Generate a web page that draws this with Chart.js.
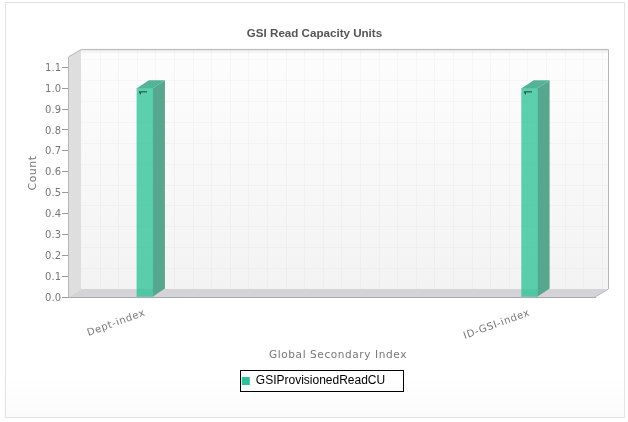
<!DOCTYPE html>
<html>
<head>
<meta charset="utf-8">
<script src="https://cdn.jsdelivr.net/npm/chart.js@4"></script>
<style>
  html, body { margin: 0; padding: 0; background: #fff; overflow: hidden; }
  #frame { position: absolute; left: 5px; top: 2px; width: 618px; height: 414px; border: 1px solid #e3e3e3;
           background: linear-gradient(to bottom, #fff 90%, #fbfbfb 100%); }
  #gsiChart { position: absolute; left: 0; top: 0; }
</style>
</head>
<body>
<div id="frame"></div>
<canvas id="gsiChart" width="628" height="422"></canvas>
<script>
var categories = ['Dept-index', 'ID-GSI-index'];
var readCapacity = [1, 1];
var seriesName = 'GSIProvisionedReadCU';

var depthX = 13, depthY = 8; // offset of the back wall

function poly(ctx, pts, fill) {
    ctx.beginPath();
    pts.forEach(function (p, i) { i ? ctx.lineTo(p[0], p[1]) : ctx.moveTo(p[0], p[1]); });
    ctx.closePath();
    if (fill) { ctx.fillStyle = fill; ctx.fill(); }
}

// run a scale's text drawing with some letter spacing and a small nudge
function spaced(scale, method, spacing, shiftX, shiftY) {
    var orig = scale[method];
    scale[method] = function (area) {
        var ctx = scale.ctx;
        ctx.save();
        ctx.letterSpacing = spacing;
        ctx.translate(shiftX, shiftY);
        orig.call(scale, area);
        ctx.restore();
    };
}

var box3d = {
    id: 'box3d',
    afterLayout: function (chart) {
        // title and legend are centred on the whole canvas, not the plot
        var lg = chart.legend, tb = chart.titleBlock;
        lg.left += 16; lg.right += 16;
        lg.top = 370; lg.bottom = 392;
        tb.left += 17; tb.right += 17;
        spaced(chart.scales.x, 'drawLabels', '0.6px', 0, 0);
        spaced(chart.scales.x, 'drawTitle', '0.6px', 6.5, 0);
        spaced(chart.scales.y, 'drawLabels', '0px', 0, 1);
        spaced(chart.scales.y, 'drawTitle', '0.5px', 0, -4);
    },
    beforeDraw: function (chart) {
        var ctx = chart.ctx, a = chart.chartArea;
        var l = a.left, r = a.right, t = a.top, b = a.bottom;
        ctx.save();
        var wall = ctx.createLinearGradient(0, t - depthY, 0, b - depthY);
        wall.addColorStop(0, '#fdfdfd');
        wall.addColorStop(1, '#f3f3f3');
        poly(ctx, [[l + depthX, t - depthY], [r + depthX, t - depthY], [r + depthX, b - depthY], [l + depthX, b - depthY]], wall);

        // faint grid on the back wall
        ctx.strokeStyle = 'rgba(0,0,0,0.025)';
        ctx.lineWidth = 1;
        ctx.beginPath();
        chart.scales.y.ticks.forEach(function (tk) {
            var y = Math.round(chart.scales.y.getPixelForValue(tk.value) - depthY) + 0.5;
            ctx.moveTo(l + depthX, y); ctx.lineTo(r + depthX, y);
        });
        for (var x = l + depthX + 18.6; x < r + depthX; x += 18.6) {
            ctx.moveTo(Math.round(x) + 0.5, t - depthY); ctx.lineTo(Math.round(x) + 0.5, b - depthY);
        }
        ctx.stroke();

        // soft shadow under the top edge
        var sh = ctx.createLinearGradient(0, t - depthY, 0, t - depthY + 5);
        sh.addColorStop(0, 'rgba(0,0,0,0.10)');
        sh.addColorStop(1, 'rgba(0,0,0,0)');
        poly(ctx, [[l + depthX, t - depthY], [r + depthX, t - depthY], [r + depthX, t - depthY + 5], [l + depthX, t - depthY + 5]], sh);

        poly(ctx, [[l, t], [l + depthX, t - depthY], [l + depthX, b - depthY], [l, b]], '#dedede');
        poly(ctx, [[l, b], [l + depthX, b - depthY], [r + depthX, b - depthY], [r, b]], '#d4d4d8');

        // outline of the box
        ctx.strokeStyle = '#b8b8b8';
        ctx.beginPath();
        ctx.moveTo(l + 0.5, b);
        ctx.lineTo(l + 0.5, t);
        ctx.lineTo(l + depthX + 0.5, t - depthY + 0.5);
        ctx.lineTo(r + depthX + 0.5, t - depthY + 0.5);
        ctx.lineTo(r + depthX + 0.5, b - depthY);
        ctx.lineTo(r, b);
        ctx.stroke();
        ctx.restore();
    },
    beforeDatasetsDraw: function (chart) {
        var ctx = chart.ctx;
        ctx.save();
        chart.getDatasetMeta(0).data.forEach(function (bar) {
            var x0 = bar.x - bar.width / 2, x1 = bar.x + bar.width / 2, d = depthX - 1;
            poly(ctx, [[x1, bar.y], [x1 + d, bar.y - depthY], [x1 + d, bar.base - depthY], [x1, bar.base]], '#56a78e');
            poly(ctx, [[x0, bar.y], [x0 + d, bar.y - depthY], [x1 + d, bar.y - depthY], [x1, bar.y]], '#54b296');
        });
        ctx.restore();
    },
    afterDatasetsDraw: function (chart) {
        var ctx = chart.ctx;
        ctx.save();
        ctx.fillStyle = '#111';
        ctx.font = '10px Roboto';
        ctx.textAlign = 'center';
        ctx.textBaseline = 'middle';
        chart.getDatasetMeta(0).data.forEach(function (bar, i) {
            ctx.save();
            ctx.translate(bar.x, bar.y + 4);
            ctx.rotate(-Math.PI / 2);
            ctx.fillText(String(readCapacity[i]), 0, 0);
            ctx.restore();
        });
        ctx.restore();
    },
    afterDraw: function (chart) {
        var ctx = chart.ctx;
        ctx.save();
        ctx.strokeStyle = '#000';
        ctx.lineWidth = 1;
        ctx.strokeRect(240.5, 370.5, 163, 21);
        ctx.restore();
    }
};

var ctx = document.getElementById('gsiChart').getContext('2d');
var gsiChart = new Chart(ctx, {
    type: 'bar',
    data: {
        datasets: [{
            label: seriesName,
            data: readCapacity.map(function (v, i) { return { x: i, y: v }; }),
            backgroundColor: 'rgba(39, 192, 147, 0.75)',
            borderWidth: 0,
            barThickness: 16
        }]
    },
    plugins: [box3d],
    options: {
        responsive: false,
        animation: false,
        layout: { padding: { left: 0, right: 33, top: 0, bottom: 0 } },
        scales: {
            x: {
                type: 'linear',
                offset: false,
                min: -0.2,
                max: 1.17,
                afterFit: function (scale) { scale.height = 98; },
                grid: { display: false, offset: false },
                border: { color: '#a8a8ae' },
                ticks: {
                    stepSize: 1,
                    includeBounds: false,
                    autoSkip: false,
                    minRotation: 20,
                    maxRotation: 20,
                    padding: 2,
                    color: '#777',
                    font: { family: '"DejaVu Sans"', size: 10 },
                    callback: function (value) { return categories[value]; }
                },
                title: {
                    display: true,
                    text: 'Global Secondary Index',
                    color: '#777',
                    font: { family: '"DejaVu Sans"', size: 10.5 },
                    padding: { top: 0, bottom: 33 }
                }
            },
            y: {
                min: 0,
                max: 1.15,
                afterFit: function (scale) { scale.width = 68; },
                grid: { drawOnChartArea: false, color: '#999', tickLength: 6 },
                border: { display: false },
                ticks: {
                    stepSize: 0.1,
                    includeBounds: false,
                    padding: 1,
                    color: '#777',
                    font: { family: '"DejaVu Sans"', size: 10 },
                    callback: function (value) { return value.toFixed(1); }
                },
                title: {
                    display: true,
                    text: 'Count',
                    color: '#777',
                    font: { family: '"DejaVu Sans"', size: 11 },
                    padding: { top: 27, bottom: 0 }
                }
            }
        },
        plugins: {
            tooltip: { enabled: false },
            title: {
                display: true,
                text: 'GSI Read Capacity Units',
                color: '#555',
                font: { family: '"Liberation Sans"', size: 11.6, weight: 'bold' },
                padding: { top: 27, bottom: 16 }
            },
            legend: {
                position: 'bottom',
                labels: {
                    boxWidth: 8,
                    boxHeight: 8,
                    padding: 5,
                    color: '#000',
                    font: { family: '"Liberation Sans"', size: 12 },
                    generateLabels: function () {
                        return [{ text: seriesName, fillStyle: '#2dc09a', strokeStyle: '#2dc09a', lineWidth: 0, datasetIndex: 0 }];
                    }
                }
            }
        }
    }
});
</script>
</body>
</html>
